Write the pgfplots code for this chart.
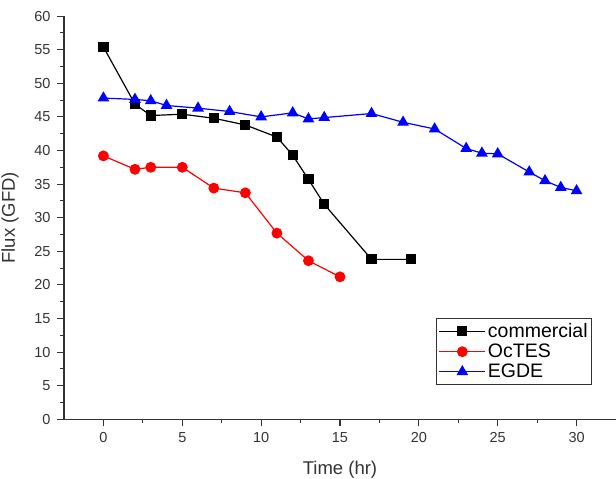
\documentclass[border=0pt]{standalone}
\usepackage{fontspec}
\setmainfont{Liberation Sans}
\usepackage{pgfplots}
\pgfplotsset{compat=1.18}
\definecolor{axisgray}{HTML}{333333}
\begin{document}
\begin{tikzpicture}
\begin{axis}[
  at={(0pt,0pt)}, anchor=south west,
  scale only axis,
  width=552pt, height=403.2pt,
  xmin=-2.5, xmax=32.5,
  ymin=0, ymax=60,
  axis x line=bottom, axis y line=left,
  axis line style={-, axisgray, line width=1.1pt},
  tick align=outside,
  tick style={axisgray, line width=1.1pt},
  major tick length=7pt,
  minor tick length=4pt,
  xtick={0,5,...,30},
  ytick={0,5,...,60},
  minor x tick num=1,
  minor y tick num=1,
  /pgf/number format/assume math mode=true,
  ticklabel style={font=\fontsize{14.5}{16}\selectfont, text=axisgray},
  xticklabel style={yshift=-3pt},
  yticklabel style={xshift=-3pt},
  xlabel={Time (hr)},
  ylabel={Flux (GFD)},
  label style={font=\fontsize{18.5}{21}\selectfont, text=axisgray},
  xlabel style={at={(axis description cs:0.5,-0.1257)}, anchor=center},
  ylabel style={at={(axis description cs:-0.0978,0.5)}, anchor=center},
  legend style={
    at={(rel axis cs:0.957,0.085)}, anchor=south east,
    draw=axisgray, line width=1.3pt,
    font=\fontsize{19.5}{23}\selectfont,
    inner xsep=2pt, inner ysep=3pt,
    row sep=1pt,
    cells={anchor=west},
  },
  legend image code/.code={
    \draw[mark repeat=2,mark phase=2,#1]
      plot coordinates {(0pt,0pt) (23pt,0pt) (46pt,0pt)};
  },
  every axis plot/.append style={line width=1.2pt},
]
% commercial membrane
\addplot[black, mark=square*, mark size=4.5pt, mark options={solid}] coordinates {
  (0,55.4) (2,46.9) (3,45.2) (5,45.4) (7,44.8) (9,43.8)
  (11,42.0) (12,39.3) (13,35.7) (14,32.0) (17,23.8) (19.5,23.8)
};
\addlegendentry{commercial}
% OcTES
\addplot[red, mark=*, mark size=4.8pt] coordinates {
  (0,39.2) (2,37.2) (3,37.5) (5,37.5) (7,34.4) (9,33.7)
  (11,27.7) (13,23.6) (15,21.2)
};
\addlegendentry{OcTES}
% EGDE
\addplot[blue, mark=triangle*, mark size=5.6pt] coordinates {
  (0,47.8) (2,47.6) (3,47.4) (4,46.7) (6,46.3) (8,45.8)
  (10,45.0) (12,45.6) (13,44.7) (14,44.9) (17,45.5) (19,44.2)
  (21,43.2) (23,40.3) (24,39.6) (25,39.5) (27,36.8) (28,35.5)
  (29,34.5) (30,34.0)
};
\addlegendentry{EGDE}
\end{axis}
\pgfresetboundingbox
\path (-64pt,-59.7pt) rectangle (552pt,419.3pt);
\end{tikzpicture}
\end{document}
